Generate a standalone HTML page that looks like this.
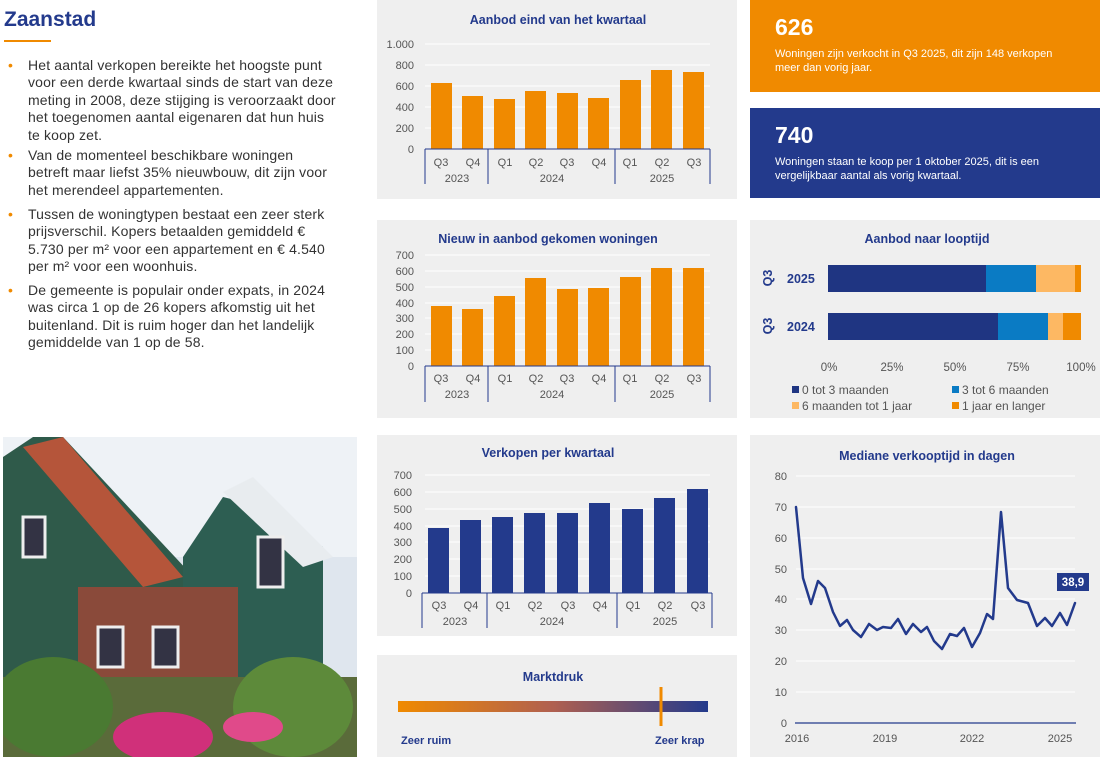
<!DOCTYPE html>
<html><head><meta charset="utf-8"><style>
*{margin:0;padding:0;box-sizing:border-box}
body{width:1103px;height:760px;background:#fff;position:relative;overflow:hidden;font-family:"Liberation Sans",sans-serif}
.abs{position:absolute}
.panel{position:absolute;background:#efefef}
h1{position:absolute;left:4px;top:8px;font-size:21px;color:#233a8c;font-weight:bold}
.bul{position:absolute;left:8px;width:370px;font-size:14px;line-height:17.4px;color:#333;padding-left:20px;white-space:nowrap;letter-spacing:0.15px}
.bul:before{content:"•";position:absolute;left:0;color:#f08a00}
.box{position:absolute;left:750px;width:350px;color:#fff;padding:14px 0 0 25px}
.box b{font-size:23px;display:block;margin-bottom:6px}
.box span{font-size:11px;line-height:14px;display:block}
svg text{font-family:"Liberation Sans",sans-serif}
</style></head><body>
<h1>Zaanstad</h1>
<div class="abs" style="left:4px;top:40px;width:47px;height:2px;background:#f08a00"></div>
<div class="bul" style="top:57px">Het aantal verkopen bereikte het hoogste punt<br>voor een derde kwartaal sinds de start van deze<br>meting in 2008, deze stijging is veroorzaakt door<br>het toegenomen aantal eigenaren dat hun huis<br>te koop zet.</div>
<div class="bul" style="top:147px">Van de momenteel beschikbare woningen<br>betreft maar liefst 35% nieuwbouw, dit zijn voor<br>het merendeel appartementen.</div>
<div class="bul" style="top:206px">Tussen de woningtypen bestaat een zeer sterk<br>prijsverschil. Kopers betaalden gemiddeld €<br>5.730 per m² voor een appartement en € 4.540<br>per m² voor een woonhuis.</div>
<div class="bul" style="top:282px">De gemeente is populair onder expats, in 2024<br>was circa 1 op de 26 kopers afkomstig uit het<br>buitenland. Dit is ruim hoger dan het landelijk<br>gemiddelde van 1 op de 58.</div>

<!-- photo -->
<svg class="abs" style="left:3px;top:437px" width="354" height="320">
<rect width="354" height="320" fill="#dfe6ee"/>
<rect x="0" y="0" width="354" height="120" fill="#eef2f6"/>
<polygon points="0,20 30,0 60,0 200,150 200,320 0,320" fill="#2f5a4a"/>
<polygon points="20,10 60,0 180,140 140,150" fill="#b5553a"/>
<polygon points="180,120 220,60 260,70 320,110 320,320 180,320" fill="#2d5e52"/>
<polygon points="220,55 250,40 330,120 300,130" fill="#e8ecef"/>
<rect x="75" y="150" width="160" height="170" fill="#8a4a3a"/>
<rect x="95" y="190" width="25" height="40" fill="#334" stroke="#eee" stroke-width="3"/>
<rect x="150" y="190" width="25" height="40" fill="#334" stroke="#eee" stroke-width="3"/>
<rect x="255" y="100" width="25" height="50" fill="#334" stroke="#eee" stroke-width="3"/>
<rect x="20" y="80" width="22" height="40" fill="#334" stroke="#eee" stroke-width="3"/>
<rect x="0" y="240" width="354" height="80" fill="#5a6b3a"/>
<ellipse cx="50" cy="270" rx="60" ry="50" fill="#4a7a32"/>
<ellipse cx="160" cy="300" rx="50" ry="25" fill="#d0307a"/>
<ellipse cx="290" cy="270" rx="60" ry="50" fill="#5d8a3a"/>
<ellipse cx="250" cy="290" rx="30" ry="15" fill="#e04a8a"/>
</svg>

<!-- chart 1 -->
<div class="panel" style="left:377px;top:0;width:360px;height:199px"></div>
<svg class="abs" style="left:0;top:0" width="1103" height="760">
<g font-size="11" fill="#2f3f88">
<text x="558" y="24" text-anchor="middle" font-weight="bold" font-size="12.5" fill="#233a8c">Aanbod eind van het kwartaal</text>
<g stroke="#fff" stroke-width="1"><line x1="425" x2="710" y1="44" y2="44"/><line x1="425" x2="710" y1="65" y2="65"/><line x1="425" x2="710" y1="86" y2="86"/><line x1="425" x2="710" y1="107" y2="107"/><line x1="425" x2="710" y1="128" y2="128"/></g>
<g text-anchor="end" fill="#555"><text x="414" y="48">1.000</text><text x="414" y="69">800</text><text x="414" y="90">600</text><text x="414" y="111">400</text><text x="414" y="132">200</text><text x="414" y="153">0</text></g>
<g fill="#f08a00">
<rect x="431" y="83" width="21" height="66"/><rect x="462" y="96" width="21" height="53"/><rect x="494" y="99" width="21" height="50"/><rect x="525" y="91" width="21" height="58"/><rect x="557" y="93" width="21" height="56"/><rect x="588" y="98" width="21" height="51"/><rect x="620" y="80" width="21" height="69"/><rect x="651" y="70" width="21" height="79"/><rect x="683" y="72" width="21" height="77"/></g>
<g stroke="#233a8c" stroke-width="1"><line x1="425" x2="710" y1="149" y2="149"/><line x1="425" x2="425" y1="149" y2="184"/><line x1="488" x2="488" y1="149" y2="184"/><line x1="615" x2="615" y1="149" y2="184"/><line x1="710" x2="710" y1="149" y2="184"/></g>
<g text-anchor="middle" fill="#555"><text x="441" y="166">Q3</text><text x="473" y="166">Q4</text><text x="505" y="166">Q1</text><text x="536" y="166">Q2</text><text x="567" y="166">Q3</text><text x="599" y="166">Q4</text><text x="630" y="166">Q1</text><text x="662" y="166">Q2</text><text x="694" y="166">Q3</text>
<text x="457" y="182">2023</text><text x="552" y="182">2024</text><text x="662" y="182">2025</text></g>
</g>
</svg>

<!-- chart 2 -->
<div class="panel" style="left:377px;top:220px;width:360px;height:198px"></div>
<svg class="abs" style="left:0;top:0" width="1103" height="760">
<g font-size="11" fill="#555">
<text x="548" y="243" text-anchor="middle" font-weight="bold" font-size="12.5" fill="#233a8c">Nieuw in aanbod gekomen woningen</text>
<g stroke="#fff"><line x1="425" x2="710" y1="255" y2="255"/><line x1="425" x2="710" y1="271" y2="271"/><line x1="425" x2="710" y1="287" y2="287"/><line x1="425" x2="710" y1="303" y2="303"/><line x1="425" x2="710" y1="318" y2="318"/><line x1="425" x2="710" y1="334" y2="334"/><line x1="425" x2="710" y1="350" y2="350"/></g>
<g text-anchor="end"><text x="414" y="259">700</text><text x="414" y="275">600</text><text x="414" y="291">500</text><text x="414" y="307">400</text><text x="414" y="322">300</text><text x="414" y="338">200</text><text x="414" y="354">100</text><text x="414" y="370">0</text></g>
<g fill="#f08a00">
<rect x="431" y="306" width="21" height="60"/><rect x="462" y="309" width="21" height="57"/><rect x="494" y="296" width="21" height="70"/><rect x="525" y="278" width="21" height="88"/><rect x="557" y="289" width="21" height="77"/><rect x="588" y="288" width="21" height="78"/><rect x="620" y="277" width="21" height="89"/><rect x="651" y="268" width="21" height="98"/><rect x="683" y="268" width="21" height="98"/></g>
<g stroke="#233a8c"><line x1="425" x2="710" y1="366" y2="366"/><line x1="425" x2="425" y1="366" y2="402"/><line x1="488" x2="488" y1="366" y2="402"/><line x1="615" x2="615" y1="366" y2="402"/><line x1="710" x2="710" y1="366" y2="402"/></g>
<g text-anchor="middle"><text x="441" y="382">Q3</text><text x="473" y="382">Q4</text><text x="505" y="382">Q1</text><text x="536" y="382">Q2</text><text x="567" y="382">Q3</text><text x="599" y="382">Q4</text><text x="630" y="382">Q1</text><text x="662" y="382">Q2</text><text x="694" y="382">Q3</text>
<text x="457" y="398">2023</text><text x="552" y="398">2024</text><text x="662" y="398">2025</text></g>
</g>
</svg>

<!-- chart 3 -->
<div class="panel" style="left:377px;top:435px;width:360px;height:201px"></div>
<svg class="abs" style="left:0;top:0" width="1103" height="760">
<g font-size="11" fill="#555">
<text x="548" y="457" text-anchor="middle" font-weight="bold" font-size="12.5" fill="#233a8c">Verkopen per kwartaal</text>
<g stroke="#fff"><line x1="425" x2="710" y1="475" y2="475"/><line x1="425" x2="710" y1="492" y2="492"/><line x1="425" x2="710" y1="509" y2="509"/><line x1="425" x2="710" y1="526" y2="526"/><line x1="425" x2="710" y1="542" y2="542"/><line x1="425" x2="710" y1="559" y2="559"/><line x1="425" x2="710" y1="576" y2="576"/></g>
<g text-anchor="end"><text x="412" y="479">700</text><text x="412" y="496">600</text><text x="412" y="513">500</text><text x="412" y="530">400</text><text x="412" y="546">300</text><text x="412" y="563">200</text><text x="412" y="580">100</text><text x="412" y="597">0</text></g>
<g fill="#233a8c">
<rect x="428" y="528" width="21" height="65"/><rect x="460" y="520" width="21" height="73"/><rect x="492" y="517" width="21" height="76"/><rect x="524" y="513" width="21" height="80"/><rect x="557" y="513" width="21" height="80"/><rect x="589" y="503" width="21" height="90"/><rect x="622" y="509" width="21" height="84"/><rect x="654" y="498" width="21" height="95"/><rect x="687" y="489" width="21" height="104"/></g>
<g stroke="#233a8c"><line x1="422" x2="712" y1="593" y2="593"/><line x1="422" x2="422" y1="593" y2="628"/><line x1="487" x2="487" y1="593" y2="628"/><line x1="617" x2="617" y1="593" y2="628"/><line x1="712" x2="712" y1="593" y2="628"/></g>
<g text-anchor="middle"><text x="439" y="609">Q3</text><text x="471" y="609">Q4</text><text x="503" y="609">Q1</text><text x="535" y="609">Q2</text><text x="568" y="609">Q3</text><text x="600" y="609">Q4</text><text x="633" y="609">Q1</text><text x="665" y="609">Q2</text><text x="698" y="609">Q3</text>
<text x="455" y="625">2023</text><text x="552" y="625">2024</text><text x="665" y="625">2025</text></g>
</g>
</svg>

<!-- marktdruk -->
<div class="panel" style="left:377px;top:655px;width:360px;height:102px"></div>
<svg class="abs" style="left:0;top:0" width="1103" height="760">
<defs><linearGradient id="g" x1="0" x2="1"><stop offset="0" stop-color="#f08a00"/><stop offset="0.5" stop-color="#b06050"/><stop offset="1" stop-color="#233a8c"/></linearGradient></defs>
<text x="553" y="681" text-anchor="middle" font-weight="bold" font-size="12.5" fill="#233a8c">Marktdruk</text>
<rect x="398" y="701" width="310" height="11" fill="url(#g)"/>
<line x1="661" x2="661" y1="687" y2="726" stroke="#f08a00" stroke-width="3"/>
<text x="401" y="744" font-size="11" font-weight="bold" fill="#233a8c">Zeer ruim</text>
<text x="655" y="744" font-size="11" font-weight="bold" fill="#233a8c">Zeer krap</text>
</svg>

<!-- boxes -->
<div class="box" style="top:0;height:92px;background:#f08a00"><b>626</b><span>Woningen zijn verkocht in Q3 2025, dit zijn 148 verkopen<br>meer dan vorig jaar.</span></div>
<div class="box" style="top:108px;height:90px;background:#233a8c"><b>740</b><span>Woningen staan te koop per 1 oktober 2025, dit is een<br>vergelijkbaar aantal als vorig kwartaal.</span></div>

<!-- looptijd -->
<div class="panel" style="left:750px;top:220px;width:350px;height:198px"></div>
<svg class="abs" style="left:0;top:0" width="1103" height="760">
<text x="927" y="243" text-anchor="middle" font-weight="bold" font-size="12.5" fill="#233a8c">Aanbod naar looptijd</text>
<g font-size="12.5" font-weight="bold" fill="#233a8c">
<text x="787" y="283">2025</text><text x="787" y="331">2024</text>
<text transform="translate(772,278) rotate(-90)" text-anchor="middle">Q3</text>
<text transform="translate(772,326) rotate(-90)" text-anchor="middle">Q3</text></g>
<rect x="828" y="265" width="158" height="27" fill="#1f3582"/><rect x="986" y="265" width="50" height="27" fill="#0a7bc4"/><rect x="1036" y="265" width="39" height="27" fill="#fdb863"/><rect x="1075" y="265" width="6" height="27" fill="#f08a00"/>
<rect x="828" y="313" width="170" height="27" fill="#1f3582"/><rect x="998" y="313" width="50" height="27" fill="#0a7bc4"/><rect x="1048" y="313" width="15" height="27" fill="#fdb863"/><rect x="1063" y="313" width="18" height="27" fill="#f08a00"/>
<g font-size="11.5" fill="#555" text-anchor="middle"><text x="829" y="371">0%</text><text x="892" y="371">25%</text><text x="955" y="371">50%</text><text x="1018" y="371">75%</text><text x="1081" y="371">100%</text></g>
<g font-size="12" fill="#555">
<rect x="792" y="386" width="7" height="7" fill="#1f3582"/><text x="802" y="394">0 tot 3 maanden</text>
<rect x="952" y="386" width="7" height="7" fill="#0a7bc4"/><text x="962" y="394">3 tot 6 maanden</text>
<rect x="792" y="402" width="7" height="7" fill="#fdb863"/><text x="802" y="410">6 maanden tot 1 jaar</text>
<rect x="952" y="402" width="7" height="7" fill="#f08a00"/><text x="962" y="410">1 jaar en langer</text></g>
</svg>

<!-- line chart -->
<div class="panel" style="left:750px;top:435px;width:350px;height:322px"></div>
<svg class="abs" style="left:0;top:0" width="1103" height="760">
<text x="927" y="460" text-anchor="middle" font-weight="bold" font-size="12.5" fill="#233a8c">Mediane verkooptijd in dagen</text>
<g stroke="#fff"><line x1="796" x2="1075" y1="476" y2="476"/><line x1="796" x2="1075" y1="507" y2="507"/><line x1="796" x2="1075" y1="538" y2="538"/><line x1="796" x2="1075" y1="569" y2="569"/><line x1="796" x2="1075" y1="599" y2="599"/><line x1="796" x2="1075" y1="630" y2="630"/><line x1="796" x2="1075" y1="661" y2="661"/><line x1="796" x2="1075" y1="692" y2="692"/></g>
<g font-size="11" fill="#555" text-anchor="end"><text x="787" y="480">80</text><text x="787" y="511">70</text><text x="787" y="542">60</text><text x="787" y="573">50</text><text x="787" y="603">40</text><text x="787" y="634">30</text><text x="787" y="665">20</text><text x="787" y="696">10</text><text x="787" y="727">0</text></g>
<line x1="795" x2="1076" y1="723" y2="723" stroke="#233a8c" stroke-width="1.2"/>
<g font-size="11" fill="#555" text-anchor="middle"><text x="797" y="742">2016</text><text x="885" y="742">2019</text><text x="972" y="742">2022</text><text x="1060" y="742">2025</text></g>
<polyline fill="none" stroke="#233a8c" stroke-width="2.5" stroke-linejoin="round" stroke-linecap="round" points="796,507 803,578 811,604 818,581 825,588 833,612 840,626 847,620 853,630 861,637 869,624 877,630 883,627 891,628 898,619 906,634 913,624 921,632 927,627 934,641 942,649 950,634 957,636 964,628 972,647 980,633 987,614 993,619 1001,512 1008,588 1017,600 1028,603 1037,626 1045,618 1052,626 1060,613 1067,625 1075,603"/>
<rect x="1057" y="573" width="32" height="18" fill="#233a8c"/>
<text x="1073" y="586" text-anchor="middle" font-size="11.5" font-weight="bold" fill="#fff">38,9</text>
</svg>
</body></html>
